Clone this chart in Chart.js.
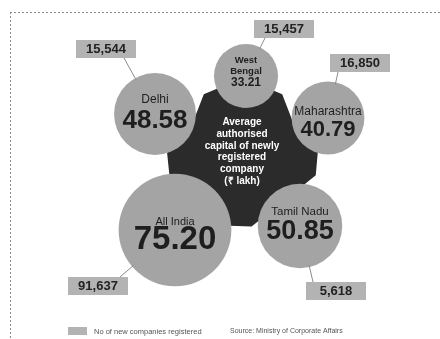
<!DOCTYPE html>
<html>
<head>
<meta charset="utf-8">
<script src="https://cdn.jsdelivr.net/npm/chart.js@4/dist/chart.umd.min.js"></script>
<style>
  html, body { margin: 0; padding: 0; background: #ffffff; }
  #wrap { width: 440px; height: 339px; position: relative; }
</style>
</head>
<body>
<div id="wrap"><canvas id="chart" width="440" height="339"></canvas></div>
<script>
// Average authorised capital of newly registered companies (Rs lakh)
const states = ['Delhi', 'West Bengal', 'Maharashtra', 'All India', 'Tamil Nadu'];
const avgCapital = [48.58, 33.21, 40.79, 75.20, 50.85];
// Number of new companies registered
const newCompanies = [15544, 15457, 16850, 91637, 5618];

// Layout: bubble centres on a 440 x 339 grid
const bubbleX = [155, 246, 328, 175, 300];
const bubbleY = [114, 76, 118, 230, 226];
// Count boxes (centres) and the points where their pointer lines start
const boxX = [106, 284, 360, 98, 336];
const boxY = [49, 29, 63, 286, 291];
const pointerX = [124, 265, 338, 120, 313];
const pointerY = [58, 38, 72, 277, 282];
// Text placement inside each bubble
const nameDy = [-14, -16, -6, -8, -14];
const valueDy = [7, 6.5, 11.5, 10, 6];
const nameSize = [12, 9.5, 12, 11, 11.5];
const valueSize = [26, 12, 22, 33, 27];

const centreLines = ['Average', 'authorised', 'capital of newly', 'registered', 'company', '(\u20B9 lakh)'];

const FONT = '"Liberation Sans", Arial, sans-serif';
const BUBBLE_GREY = '#a4a4a4';
const BOX_GREY = '#b3b3b3';
const DARK = '#2b2b2b';

// bubble radius grows with the average capital
const radiusFor = v => 12.75 + 0.58 * v;

const points = avgCapital.map((v, i) => ({ x: bubbleX[i], y: bubbleY[i], r: radiusFor(v) }));

const fmt = n => n.toLocaleString('en-US');

// Dark five-armed backdrop behind the bubbles
const backdrop = {
  id: 'backdrop',
  beforeDatasetsDraw(chart) {
    const { ctx, scales } = chart;
    const cx = scales.x.getPixelForValue(243);
    const cy = scales.y.getPixelForValue(157);
    // arms: [angle from vertical (deg), reach]
    const arms = [[-23, 74], [23, 74], [95, 75], [182, 70], [264, 76]];
    const pt = (a, r) => {
      const t = a * Math.PI / 180;
      return [cx + r * Math.sin(t), cy - r * Math.cos(t)];
    };
    ctx.save();
    ctx.fillStyle = DARK;
    ctx.beginPath();
    // start at the notch between the two upper arms
    let p = pt(0, 49);
    ctx.moveTo(p[0], p[1]);
    const order = [1, 2, 3, 4, 0];
    order.forEach((k, j) => {
      const [a, r] = arms[k];
      p = pt(a - 9, r); ctx.lineTo(p[0], p[1]);
      p = pt(a + 9, r); ctx.lineTo(p[0], p[1]);
      const next = arms[order[(j + 1) % 5]][0];
      const mid = (a + (next < a ? next + 360 : next)) / 2;
      p = pt(mid, j === 4 ? 49 : 60);
      ctx.lineTo(p[0], p[1]);
    });
    ctx.closePath();
    ctx.fill();

    ctx.fillStyle = '#ffffff';
    ctx.font = 'bold 10px ' + FONT;
    ctx.textAlign = 'center';
    ctx.textBaseline = 'middle';
    centreLines.forEach((s, i) => ctx.fillText(s, cx - 1, scales.y.getPixelForValue(122 + i * 11.9)));
    ctx.restore();
  }
};

// Frame, labels, count boxes and footer
const annotate = {
  id: 'annotate',
  beforeDraw(chart) {
    const { ctx } = chart;
    ctx.save();
    ctx.strokeStyle = '#8a8a8a';
    ctx.lineWidth = 1;
    ctx.setLineDash([2, 2]);
    ctx.beginPath();
    ctx.moveTo(10, 12.5); ctx.lineTo(440, 12.5);
    ctx.moveTo(10.5, 12); ctx.lineTo(10.5, 339);
    ctx.stroke();
    ctx.restore();
  },
  afterDatasetsDraw(chart) {
    const { ctx, scales } = chart;
    const meta = chart.getDatasetMeta(0);
    ctx.save();
    ctx.textAlign = 'center';
    ctx.textBaseline = 'middle';
    meta.data.forEach((el, i) => {
      const x = el.x, y = el.y, r = points[i].r;
      ctx.fillStyle = '#1e1e1e';
      // state name (split into two lines in the smallest bubble)
      const lines = r < 34 ? states[i].split(' ') : [states[i]];
      ctx.font = (r < 34 ? 'bold ' : '') + nameSize[i] + 'px ' + FONT;
      lines.forEach((s, k) => ctx.fillText(s, x, y + nameDy[i] + k * 11.5));
      ctx.font = 'bold ' + valueSize[i] + 'px ' + FONT;
      ctx.fillText(avgCapital[i].toFixed(2), x, y + valueDy[i]);

      // pointer from the count box to the bubble edge
      const sx = scales.x.getPixelForValue(pointerX[i]);
      const sy = scales.y.getPixelForValue(pointerY[i]);
      const d = Math.hypot(sx - x, sy - y);
      const ex = x + (sx - x) * (r - 2) / d;
      const ey = y + (sy - y) * (r - 2) / d;
      ctx.strokeStyle = '#8c8c8c';
      ctx.lineWidth = 1;
      ctx.beginPath();
      ctx.moveTo(sx, sy); ctx.lineTo(ex, ey);
      ctx.stroke();

      // count box
      const bx = scales.x.getPixelForValue(boxX[i]);
      const by = scales.y.getPixelForValue(boxY[i]);
      ctx.fillStyle = BOX_GREY;
      ctx.fillRect(bx - 30, by - 9, 60, 18);
      ctx.fillStyle = '#222222';
      ctx.font = 'bold 13px ' + FONT;
      ctx.fillText(fmt(newCompanies[i]), bx, by + 0.5);
    });

    // footer: key and source
    ctx.fillStyle = BOX_GREY;
    ctx.fillRect(68, 327, 19, 8);
    ctx.fillStyle = '#555555';
    ctx.textAlign = 'left';
    ctx.font = '7.5px ' + FONT;
    ctx.fillText('No of new companies registered', 94, 331.5);
    ctx.font = '7px ' + FONT;
    ctx.fillText('Source: Ministry of Corporate Affairs', 230, 331.5);
    ctx.restore();
  }
};

const chart = new Chart(document.getElementById('chart'), {
  type: 'bubble',
  data: {
    datasets: [{
      label: 'Average authorised capital',
      data: points,
      backgroundColor: BUBBLE_GREY,
      borderWidth: 0,
      hoverRadius: 0,
      clip: false
    }]
  },
  options: {
    responsive: false,
    animation: false,
    layout: { padding: 0 },
    plugins: { legend: { display: false }, tooltip: { enabled: false } },
    scales: {
      x: { type: 'linear', min: 0, max: 440, display: false },
      y: { type: 'linear', min: 0, max: 339, reverse: true, display: false }
    }
  }
  ,
  plugins: [backdrop, annotate]
});

// The bubble controller insets the plot area by the largest radius;
// shift the scale ranges so one unit stays one canvas pixel.
const area = chart.chartArea;
chart.options.scales.x.min = area.left;
chart.options.scales.x.max = area.right;
chart.options.scales.y.min = area.top;
chart.options.scales.y.max = area.bottom;
chart.update('none');
</script>
</body>
</html>
